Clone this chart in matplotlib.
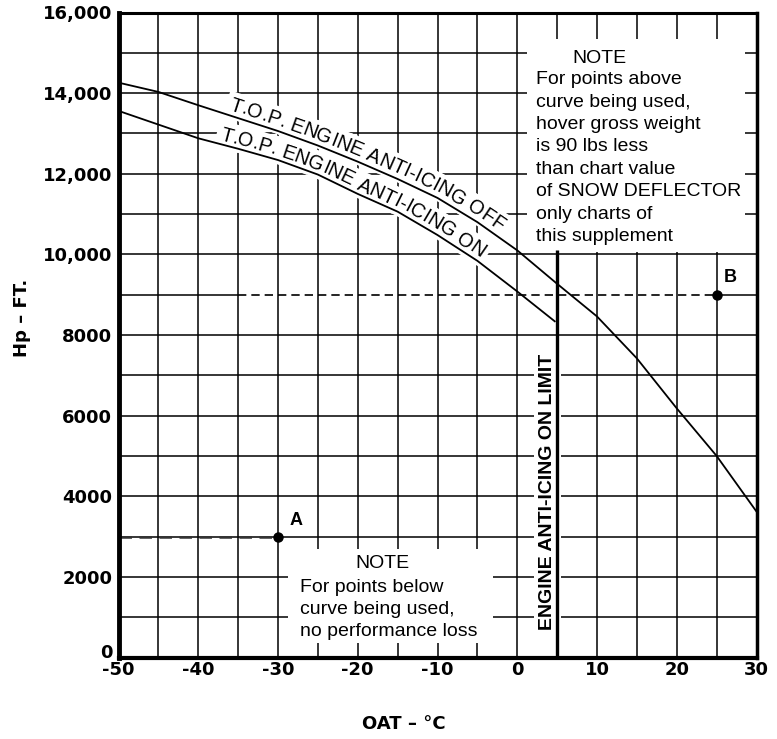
import numpy as np
import matplotlib
matplotlib.use("Agg")
import matplotlib.pyplot as plt
from matplotlib.patches import Rectangle
from matplotlib.transforms import ScaledTranslation
from matplotlib.font_manager import FontProperties, findfont, get_font

try:
    from matplotlib.ft2font import LoadFlags
    NO_HINT = LoadFlags.NO_HINTING
except ImportError:  # older matplotlib
    from matplotlib.ft2font import LOAD_NO_HINTING as NO_HINT

# ---------------- chart data ----------------
oat_off = [-50, -45, -40, -35, -30, -25, -20, -15, -10, -5, 0, 5, 10, 15, 20, 25, 30]
hp_off = [14260, 14030, 13700, 13380, 13060, 12700, 12300, 11870, 11400, 10800,
          10100, 9270, 8460, 7420, 6180, 5000, 3620]

oat_on = [-50, -45, -40, -35, -30, -25, -20, -15, -10, -5, 0, 4.7]
hp_on = [13560, 13220, 12880, 12620, 12340, 11980, 11500, 11060, 10480, 9840, 9080, 8340]

limit_oat = 5
limit_hp_top = 10100

point_a = (-30, 3000)
point_b = (25, 9000)

x_ticks = [-50, -40, -30, -20, -10, 0, 10, 20, 30]
x_tick_labels = ['-50', '-40', '-30', '-20', '-10', '0', '10', '20', '30']
y_ticks = [0, 2000, 4000, 6000, 8000, 10000, 12000, 14000, 16000]
y_tick_labels = ['0', '2000', '4000', '6000', '8000', '10,000', '12,000', '14,000', '16,000']

label_off = 'T.O.P. ENGINE ANTI-ICING OFF'
label_on = 'T.O.P. ENGINE ANTI-ICING ON'
limit_label = 'ENGINE ANTI-ICING ON LIMIT'
note_title = 'NOTE'
note_upper = ['For points above', 'curve being used,', 'hover gross weight',
              'is 90 lbs less', 'than chart value', 'of SNOW DEFLECTOR',
              'only charts of', 'this supplement']
note_lower = ['For points below', 'curve being used,', 'no performance loss']

# ---------------- fonts ----------------
tick_fp = FontProperties(family='DejaVu Sans', weight='bold', size=13)
axis_fp = FontProperties(family='DejaVu Sans', weight='bold', size=13)
note_fp = FontProperties(family='Liberation Sans', size=14)
curve_fp = FontProperties(family='Liberation Sans', size=14.3)
limit_fp = FontProperties(family='Liberation Sans', weight='bold', size=14)
point_fp = FontProperties(family='Liberation Sans', weight='bold', size=13)

# ---------------- figure ----------------
W, H = 777, 739
fig = plt.figure(figsize=(W / 100, H / 100), dpi=100)
fig.patch.set_facecolor('white')
ax = fig.add_axes([118.5 / W, 81.5 / H, 638 / W, 645 / H])
ax.set_xlim(-50, 30)
ax.set_ylim(0, 16000)

# grid: every 5 degC and every 1000 ft
grid_kw = dict(color='black', lw=1.1, zorder=1)
for gx in np.arange(-45, 30, 5):
    ax.axvline(gx, **grid_kw)
for gy in np.arange(1000, 16000, 1000):
    if gy == point_b[1]:
        ax.hlines(gy, -50, -35, **grid_kw)
        ax.hlines(gy, -35, point_b[0], color='black', lw=1.2,
                  linestyles=(0, (5, 3)), zorder=1)
        ax.hlines(gy, point_b[0], 30, **grid_kw)
    else:
        ax.axhline(gy, **grid_kw)

# white panels behind the notes
ax.add_patch(Rectangle((1.2, 10060), 27.4, 5290, facecolor='white',
                       edgecolor='none', zorder=2))
ax.add_patch(Rectangle((-28.8, 350), 25.8, 2350, facecolor='white',
                       edgecolor='none', zorder=2))

# performance curves
ax.plot(oat_off, hp_off, color='black', lw=1.3, zorder=4)
ax.plot(oat_on, hp_on, color='black', lw=1.3, zorder=4)

# anti-icing limit
ax.vlines(limit_oat, 0, limit_hp_top, color='black', lw=2.4, zorder=5)
ax.text(4.35, 4120, limit_label, rotation=90, rotation_mode='anchor',
        ha='center', va='baseline', fontproperties=limit_fp, zorder=3,
        bbox=dict(facecolor='white', edgecolor='none', boxstyle='square,pad=0.25'))

# example points
ax.hlines(point_a[1], -50, point_a[0], color='#333333', lw=1.8,
          linestyles=(0, (5, 3)), zorder=3)
ax.plot(*point_a, 'o', color='black', ms=6.5, zorder=6)
ax.plot(*point_b, 'o', color='black', ms=6.5, zorder=6)
ax.text(-27.75, 3390, 'A', ha='center', va='center', fontproperties=point_fp, zorder=6)
ax.text(26.7, 9420, 'B', ha='center', va='center', fontproperties=point_fp, zorder=6)


def text_along(xs, ys, text, x_start, offset_px, fp):
    """Lay a string out character by character along a curve."""
    pts = ax.transData.transform(np.column_stack([xs, ys]))
    seg = np.hypot(*np.diff(pts, axis=0).T)
    cum = np.concatenate([[0.0], np.cumsum(seg)])

    def at(s):
        return np.interp(s, cum, pts[:, 0]), np.interp(s, cum, pts[:, 1])

    x0 = ax.transData.transform((x_start, 0))[0]
    s = np.interp(x0, pts[:, 0], cum)
    font = get_font(findfont(fp))
    font.set_size(fp.get_size_in_points(), fig.dpi)
    inv = ax.transData.inverted()
    for ch in text:
        glyph = font.load_char(ord(ch), flags=NO_HINT)
        adv = glyph.linearHoriAdvance / 65536
        sc = s + adv / 2
        xa, ya = at(sc - 25)
        xb, yb = at(sc + 25)
        ang = np.arctan2(yb - ya, xb - xa)
        cx, cy = at(sc)
        bx = cx - np.sin(ang) * offset_px
        by = cy + np.cos(ang) * offset_px
        dx, dy = inv.transform((bx, by))
        common = dict(rotation=np.degrees(ang), rotation_mode='anchor',
                      ha='center', va='baseline', fontproperties=fp)
        # white backing that hides the grid behind the lettering
        ax.text(dx, dy, ch if ch != ' ' else 'I', color='white', zorder=2.5,
                bbox=dict(facecolor='white', edgecolor='none',
                          boxstyle='square,pad=0.2'), **common)
        if ch != ' ':
            ax.text(dx, dy, ch, color='black', zorder=3, **common)
        s += adv


text_along(oat_off, hp_off, label_off, -36.4, 5, curve_fp)
text_along(oat_on, hp_on, label_on, -37.5, 4, curve_fp)

# notes
ax.text(10.3, 14745, note_title, ha='center', va='baseline',
        fontproperties=note_fp, zorder=3)
for i, line in enumerate(note_upper):
    ax.text(2.38, 14223 - i * 557, line, ha='left', va='baseline',
            fontproperties=note_fp, zorder=3)

ax.text(-16.9, 2213, note_title, ha='center', va='baseline',
        fontproperties=note_fp, zorder=3)
for i, line in enumerate(note_lower):
    ax.text(-27.3, 1633 - i * 546, line, ha='left', va='baseline',
            fontproperties=note_fp, zorder=3)

# axes frame and ticks
for side, lw in (('left', 3.5), ('bottom', 3.0), ('top', 2.2), ('right', 2.5)):
    ax.spines[side].set_linewidth(lw)
    ax.spines[side].set_color('black')
    ax.spines[side].set_zorder(7)

ax.set_xticks(x_ticks)
ax.set_xticklabels(x_tick_labels, fontproperties=tick_fp)
ax.set_yticks(y_ticks)
ax.set_yticklabels(y_tick_labels, fontproperties=tick_fp)
ax.tick_params(axis='both', length=0)
ax.tick_params(axis='x', pad=2.5)
ax.tick_params(axis='y', pad=4.5)

# lift the zero altitude label clear of the -50 label below it
zero_label = ax.get_yticklabels()[0]
zero_label.set_transform(zero_label.get_transform()
                         + ScaledTranslation(0, 5 / 72, fig.dpi_scale_trans))

fig.text(22 / W, 1 - 318 / H, 'Hp – FT.', rotation=90, ha='center', va='center',
         fontproperties=axis_fp)
fig.text(404 / W, 1 - 724 / H, 'OAT – °C', ha='center', va='center',
         fontproperties=axis_fp)

fig.savefig('out.png', dpi=100, facecolor='white')
